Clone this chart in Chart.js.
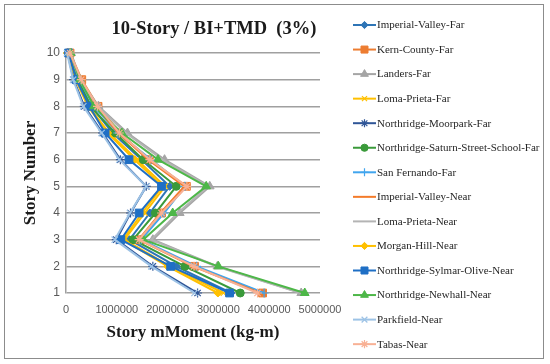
<!DOCTYPE html>
<html lang="en">
<head>
<meta charset="UTF-8">
<title>10-Story / BI+TMD (3%)</title>
<script src="https://cdn.jsdelivr.net/npm/chart.js"></script>
<style>
  body { margin: 0; background: #fff; }
  canvas { display: block; }
</style>
</head>
<body>
<canvas id="momentChart" width="550" height="364"></canvas>
<script>
// story numbers (y) and the moment read at each story (x, kg-m)
var stories = [1, 2, 3, 4, 5, 6, 7, 8, 9, 10];
var xTicks = [0, 1000000, 2000000, 3000000, 4000000, 5000000];

var imperialValleyFar   = [3250000, 2170000, 1250000, 1650000, 2040000, 1490000, 920000, 500000, 220000, 50000];
var kernCountyFar       = [3870000, 2530000, 1450000, 1880000, 2370000, 1640000, 1060000, 630000, 310000, 80000];
var landersFar          = [4630000, 2980000, 1710000, 2240000, 2830000, 1940000, 1210000, 640000, 280000, 100000];
var lomaPrietaFar       = [3100000, 2050000, 1150000, 1550000, 1950000, 1400000, 850000, 450000, 200000, 40000];
var moorparkFar         = [2590000, 1710000, 990000, 1270000, 1580000, 1070000, 720000, 360000, 150000, 30000];
var saturnStreetFar     = [3430000, 2340000, 1320000, 1760000, 2170000, 1520000, 970000, 480000, 240000, 60000];
var sanFernandoFar      = [3900000, 2570000, 1480000, 1930000, 2340000, 1680000, 1020000, 550000, 260000, 70000];
var imperialValleyNear  = [3820000, 2500000, 1430000, 1860000, 2330000, 1620000, 1030000, 580000, 280000, 70000];
var lomaPrietaNear      = [4620000, 2950000, 1680000, 2200000, 2800000, 1900000, 1180000, 620000, 270000, 90000];
var morganHillNear      = [2990000, 2000000, 1120000, 1500000, 1900000, 1350000, 820000, 430000, 190000, 30000];
var sylmarOliveNear     = [3220000, 2060000, 1080000, 1440000, 1880000, 1240000, 770000, 460000, 200000, 50000];
var newhallNear         = [4700000, 3000000, 1520000, 2100000, 2760000, 1810000, 1100000, 550000, 270000, 90000];
var parkfieldNear       = [2530000, 1680000, 960000, 1260000, 1580000, 1050000, 700000, 340000, 140000, 20000];
var tabasNear           = [3770000, 2520000, 1440000, 1880000, 2380000, 1650000, 1050000, 620000, 300000, 80000];

var seriesNames = [
  'Imperial-Valley-Far', 'Kern-County-Far', 'Landers-Far', 'Loma-Prieta-Far',
  'Northridge-Moorpark-Far', 'Northridge-Saturn-Street-School-Far', 'San Fernando-Far',
  'Imperial-Valley-Near', 'Loma-Prieta-Near', 'Morgan-Hill-Near',
  'Northridge-Sylmar-Olive-Near', 'Northridge-Newhall-Near', 'Parkfield-Near', 'Tabas-Near'
];
var seriesValues = [
  imperialValleyFar, kernCountyFar, landersFar, lomaPrietaFar, moorparkFar, saturnStreetFar,
  sanFernandoFar, imperialValleyNear, lomaPrietaNear, morganHillNear, sylmarOliveNear,
  newhallNear, parkfieldNear, tabasNear
];

// look of each series: colour, marker, marker size
var seriesStyles = [
  { color: '#2E75B6', marker: 'rectRot',  size: 4 },
  { color: '#ED7D31', marker: 'rect',     size: 5.5 },
  { color: '#A5A5A5', marker: 'triangle', size: 5 },
  { color: '#FFC000', marker: 'crossRot', size: 4 },
  { color: '#2F5597', marker: 'star',     size: 4.5 },
  { color: '#3A9A3A', marker: 'circle',   size: 4 },
  { color: '#41A5EE', marker: 'cross',    size: 4.5 },
  { color: '#F47B2A', marker: false,      size: 0 },
  { color: '#B4B4B4', marker: false,      size: 0 },
  { color: '#FFC000', marker: 'rectRot',  size: 4 },
  { color: '#1F6FC5', marker: 'rect',     size: 5.5 },
  { color: '#4DB748', marker: 'triangle', size: 5 },
  { color: '#9DC3E6', marker: 'crossRot', size: 4.5 },
  { color: '#F8B195', marker: 'star',     size: 4.5 }
];

var datasets = seriesNames.map(function (name, i) {
  var st = seriesStyles[i];
  var thin = st.marker === 'crossRot' || st.marker === 'star' || st.marker === 'cross';
  return {
    label: name,
    data: stories.map(function (s, k) { return { x: seriesValues[i][k], y: s }; }),
    borderColor: st.color,
    backgroundColor: st.color,
    borderWidth: 2,
    pointStyle: st.marker || 'circle',
    pointRadius: st.size,
    pointBorderWidth: thin ? 1.2 : 1,
    pointBackgroundColor: st.color,
    pointBorderColor: st.color,
    tension: 0,
    clip: false,
    order: seriesNames.length - i
  };
});

// white background, outer frame and the chart title
var framePlugin = {
  id: 'frame',
  beforeDraw: function (chart) {
    var ctx = chart.ctx;
    ctx.save();
    ctx.fillStyle = '#ffffff';
    ctx.fillRect(0, 0, chart.width, chart.height);
    ctx.strokeStyle = '#8c8c8c';
    ctx.lineWidth = 1;
    ctx.strokeRect(4.5, 4.5, 539, 354);
    ctx.fillStyle = '#1a1a1a';
    ctx.font = 'bold 18.5px "Liberation Serif"';
    ctx.textAlign = 'center';
    ctx.textBaseline = 'middle';
    ctx.fillText('10-Story / BI+TMD  (3%)', 214, 29);
    ctx.restore();
  }
};

// legend on the right: short line with the marker in the middle
var legendPlugin = {
  id: 'sideLegend',
  afterDraw: function (chart) {
    var ctx = chart.ctx;
    ctx.save();
    chart.data.datasets.forEach(function (ds, i) {
      var st = seriesStyles[i];
      var y = 25 + i * 24.55;
      ctx.strokeStyle = st.color;
      ctx.lineWidth = 2;
      ctx.beginPath();
      ctx.moveTo(353, y);
      ctx.lineTo(376, y);
      ctx.stroke();
      if (st.marker) {
        ctx.fillStyle = st.color;
        ctx.strokeStyle = st.color;
        ctx.lineWidth = ds.pointBorderWidth;
        Chart.helpers.drawPoint(ctx, {
          pointStyle: st.marker,
          radius: st.size * 0.9,
          rotation: 0,
          borderWidth: ds.pointBorderWidth
        }, 364.5, y);
      }
      ctx.fillStyle = '#262626';
      ctx.font = '11px "Liberation Serif"';
      ctx.textAlign = 'left';
      ctx.textBaseline = 'middle';
      ctx.fillText(ds.label, 377, y + 0.5);
    });
    ctx.restore();
  }
};

var ctx = document.getElementById('momentChart').getContext('2d');
var momentChart = new Chart(ctx, {
  type: 'line',
  data: { datasets: datasets },
  plugins: [framePlugin, legendPlugin],
  options: {
    responsive: false,
    animation: false,
    layout: { padding: { left: 16, right: 230, top: 53, bottom: 17 } },
    plugins: {
      legend: { display: false },
      tooltip: { enabled: false }
    },
    scales: {
      x: {
        type: 'linear',
        position: 'bottom',
        min: xTicks[0],
        max: xTicks[xTicks.length - 1],
        afterBuildTicks: function (scale) {
          scale.ticks = xTicks.map(function (v) { return { value: v }; });
        },
        afterFit: function (scale) { scale.height = 54; },
        grid: { display: false, drawTicks: false },
        border: { display: false },
        ticks: {
          padding: 10,
          color: '#595959',
          font: { family: '"Liberation Sans"', size: 11 },
          callback: function (v) { return String(v); }
        },
        title: {
          display: true,
          text: 'Story mMoment (kg-m)',
          color: '#1a1a1a',
          padding: { top: 4, bottom: 4 },
          font: { family: '"Liberation Serif"', size: 17, weight: 'bold' }
        }
      },
      y: {
        type: 'linear',
        min: stories[0],
        max: stories[stories.length - 1],
        afterBuildTicks: function (scale) {
          scale.ticks = stories.map(function (v) { return { value: v }; });
        },
        afterFit: function (scale) { scale.width = 50; },
        grid: { color: '#a0a0a0', lineWidth: 1.5, drawTicks: false },
        border: { display: true, color: '#a0a0a0', width: 1.5 },
        ticks: {
          padding: 6,
          color: '#595959',
          font: { family: '"Liberation Sans"', size: 12 }
        },
        title: {
          display: true,
          text: 'Story Number',
          color: '#1a1a1a',
          padding: { top: 4, bottom: 4 },
          font: { family: '"Liberation Serif"', size: 17, weight: 'bold' }
        }
      }
    }
  }
});
</script>
</body>
</html>
